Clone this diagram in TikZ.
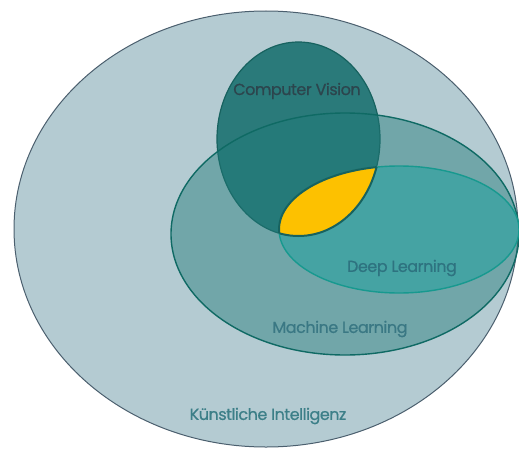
\documentclass[tikz,border=0pt]{standalone}
\usepackage{fontspec}
\setmainfont{Poppins}[LetterSpace=-3, FakeBold=0.6]
\begin{document}
\begin{tikzpicture}[x=1pt,y=-1pt,
  lbl/.style={font=\fontsize{16}{18}\selectfont, inner sep=0pt}]
\definecolor{kifill}{HTML}{B4CBD2}
\definecolor{kidraw}{HTML}{4B5F6E}
\definecolor{cvfill}{HTML}{2A7A7A}
\definecolor{cvdraw}{HTML}{17625F}
\definecolor{mlfill}{HTML}{207A78}
\definecolor{mldraw}{HTML}{0F6A64}
\definecolor{dlfill}{HTML}{45A3A3}
\definecolor{dldraw}{HTML}{17998F}
\definecolor{yel}{HTML}{FDC100}
\definecolor{cvtext}{HTML}{2C454D}
\definecolor{dltext}{HTML}{2E7380}
\definecolor{mltext}{HTML}{3A7884}
\definecolor{kitext}{HTML}{3C7F88}
\useasboundingbox (0,0) rectangle (519,452);
% outer
\draw[kidraw, fill=kifill, line width=1pt] (266,229) ellipse [x radius=252, y radius=218];
% computer vision
\draw[cvdraw, fill=cvfill, line width=1.2pt] (298.5,139) ellipse [x radius=81.5, y radius=97];
% machine learning
\fill[mlfill, fill opacity=0.45] (345,234) ellipse [x radius=174, y radius=121];
\draw[mldraw, line width=1.4pt] (345,234) ellipse [x radius=174, y radius=121];
% deep learning
\draw[dldraw, fill=dlfill, line width=1.4pt] (399,229.5) ellipse [x radius=120, y radius=63.5];
% intersection
\begin{scope}
  \clip (298.5,139) ellipse [x radius=81.5, y radius=97];
  \fill[yel] (399,229.5) ellipse [x radius=120, y radius=63.5];
\end{scope}
\begin{scope}
  \clip (298.5,139) ellipse [x radius=81.5, y radius=97];
  \draw[cvdraw, line width=2pt] (399,229.5) ellipse [x radius=120, y radius=63.5];
\end{scope}
\begin{scope}
  \clip (399,229.5) ellipse [x radius=120, y radius=63.5];
  \draw[cvdraw, line width=2pt] (298.5,139) ellipse [x radius=81.5, y radius=97];
\end{scope}
\node[lbl, text=cvtext] (cv) at (297,91) {Computer Vision};
\node[lbl, text=dltext] (dl) at (402,268) {Deep Learning};
\node[lbl, text=mltext] (ml) at (340,329) {Machine Learning};
\node[lbl, text=kitext] (ki) at (268,416) {Künstliche Intelligenz};
\end{tikzpicture}
\end{document}
